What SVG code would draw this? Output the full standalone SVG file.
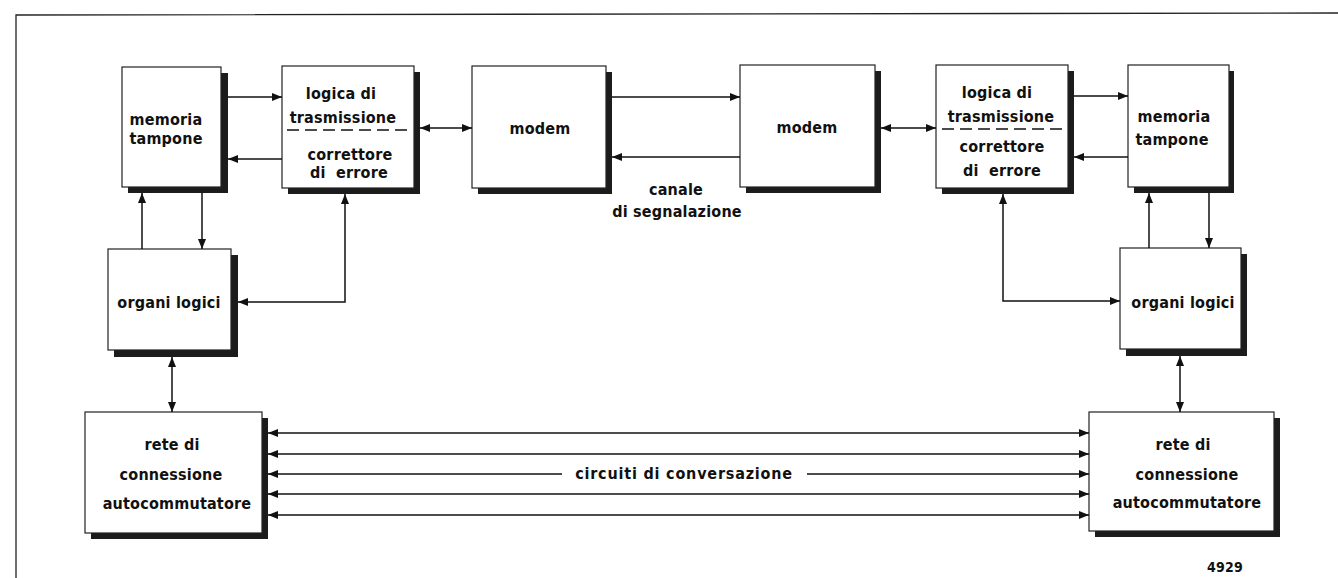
<svg xmlns="http://www.w3.org/2000/svg" width="1338" height="578" viewBox="0 0 1338 578">
<style>
.box{fill:#fff;stroke:#222;stroke-width:1.2}
.sh{fill:#1c1c1c}
.ln{fill:none;stroke:#111;stroke-width:1.5}
.dash{fill:none;stroke:#111;stroke-width:1.4;stroke-dasharray:12,6}
text{font-family:"DejaVu Sans Condensed","DejaVu Sans",sans-serif;font-weight:bold;font-size:16px;fill:#111;text-anchor:middle;letter-spacing:0.2px}
.pre{white-space:pre}
.frame{fill:none;stroke:#222;stroke-width:1.3}
</style>
<defs>
<marker id="ah" viewBox="0 0 10 8" refX="10" refY="4" markerWidth="10" markerHeight="8" markerUnits="userSpaceOnUse" orient="auto-start-reverse">
<path d="M0,0 L10,4 L0,8 z" fill="#111"/>
</marker>
</defs>
<rect x="0" y="0" width="1338" height="578" fill="#fff"/>
<path class="frame" d="M16,578 V15 L1338,13"/>

<g id="memoria-sx">
<rect class="sh" x="128" y="73" width="100" height="120"/>
<rect class="box" x="122" y="67" width="99" height="120"/>
<text x="166" y="125">memoria</text>
<text x="166" y="144">tampone</text>
</g>
<g id="logica-sx">
<rect class="sh" x="288" y="72" width="132" height="122"/>
<rect class="box" x="282" y="66" width="132" height="122"/>
<line class="dash" x1="287" y1="130" x2="410" y2="130"/>
<text x="341" y="99">logica di</text>
<text x="343" y="123">trasmissione</text>
<text x="350" y="160">correttore</text>
<text x="349" y="178" class="pre">di  errore</text>
</g>
<g id="modem-sx">
<rect class="sh" x="478" y="72" width="134" height="122"/>
<rect class="box" x="472" y="66" width="134" height="122"/>
<text x="540" y="134">modem</text>
</g>
<g id="modem-dx">
<rect class="sh" x="746" y="71" width="135" height="122"/>
<rect class="box" x="740" y="65" width="135" height="122"/>
<text x="807" y="133">modem</text>
</g>
<g id="logica-dx">
<rect class="sh" x="942" y="71" width="132" height="123"/>
<rect class="box" x="936" y="65" width="132" height="123"/>
<line class="dash" x1="942" y1="129" x2="1064" y2="129"/>
<text x="997" y="98">logica di</text>
<text x="1001" y="122">trasmissione</text>
<text x="1002" y="152">correttore</text>
<text x="1002" y="176" class="pre">di  errore</text>
</g>
<g id="memoria-dx">
<rect class="sh" x="1134" y="71" width="100" height="122"/>
<rect class="box" x="1128" y="65" width="101" height="122"/>
<text x="1174" y="122">memoria</text>
<text x="1172" y="145">tampone</text>
</g>
<g id="organi-sx">
<rect class="sh" x="114" y="255" width="124" height="102"/>
<rect class="box" x="108" y="249" width="123" height="101"/>
<text x="169" y="308">organi logici</text>
</g>
<g id="organi-dx">
<rect class="sh" x="1126" y="254" width="121" height="102"/>
<rect class="box" x="1120" y="248" width="121" height="101"/>
<text x="1183" y="308">organi logici</text>
</g>
<g id="rete-sx">
<rect class="sh" x="91" y="418" width="177" height="121"/>
<rect class="box" x="85" y="412" width="177" height="121"/>
<text x="172" y="450">rete di</text>
<text x="171" y="480">connessione</text>
<text x="177" y="509">autocommutatore</text>
</g>
<g id="rete-dx">
<rect class="sh" x="1095" y="418" width="185" height="119"/>
<rect class="box" x="1089" y="412" width="185" height="119"/>
<text x="1183" y="450">rete di</text>
<text x="1187" y="480">connessione</text>
<text x="1187" y="508">autocommutatore</text>
</g>

<g id="connectors">
<path class="ln" d="M228,97 H282" marker-end="url(#ah)"/>
<path class="ln" d="M282,159 H228" marker-end="url(#ah)"/>
<path class="ln" d="M420,128 H472" marker-start="url(#ah)" marker-end="url(#ah)"/>
<path class="ln" d="M612,97 H740" marker-end="url(#ah)"/>
<path class="ln" d="M740,157 H612" marker-end="url(#ah)"/>
<path class="ln" d="M881,128 H936" marker-start="url(#ah)" marker-end="url(#ah)"/>
<path class="ln" d="M1074,96 H1128" marker-end="url(#ah)"/>
<path class="ln" d="M1128,157 H1074" marker-end="url(#ah)"/>
<path class="ln" d="M142,249 V193" marker-end="url(#ah)"/>
<path class="ln" d="M202,193 V249" marker-end="url(#ah)"/>
<path class="ln" d="M345,194 V302 H238" marker-start="url(#ah)" marker-end="url(#ah)"/>
<path class="ln" d="M172,357 V412" marker-start="url(#ah)" marker-end="url(#ah)"/>
<path class="ln" d="M1003,194 V301 H1120" marker-start="url(#ah)" marker-end="url(#ah)"/>
<path class="ln" d="M1149,248 V193" marker-end="url(#ah)"/>
<path class="ln" d="M1209,193 V248" marker-end="url(#ah)"/>
<path class="ln" d="M1180,356 V412" marker-start="url(#ah)" marker-end="url(#ah)"/>
<path class="ln" d="M268,433 H1089" marker-start="url(#ah)" marker-end="url(#ah)"/>
<path class="ln" d="M268,454 H1089" marker-start="url(#ah)" marker-end="url(#ah)"/>
<path class="ln" d="M268,474 H562" marker-start="url(#ah)"/>
<path class="ln" d="M807,474 H1089" marker-end="url(#ah)"/>
<path class="ln" d="M268,494 H1089" marker-start="url(#ah)" marker-end="url(#ah)"/>
<path class="ln" d="M268,515 H1089" marker-start="url(#ah)" marker-end="url(#ah)"/>
</g>

<g id="labels">
<text x="676" y="195">canale</text>
<text x="677" y="217">di segnalazione</text>
<text x="684" y="479" style="font-size:16px;letter-spacing:0.8px">circuiti di conversazione</text>
<text x="1225" y="572" style="font-size:14px">4929</text>
</g>
</svg>
